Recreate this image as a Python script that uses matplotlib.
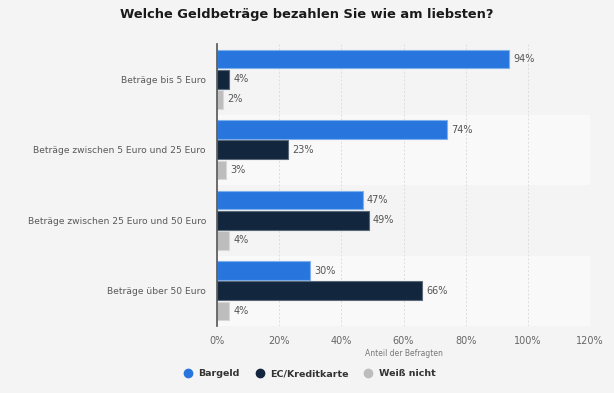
import numpy as np
import matplotlib.pyplot as plt
from matplotlib.lines import Line2D

# Daten
kategorien = ['Beträge bis 5 Euro', 'Beträge zwischen 5 Euro und 25 Euro',
              'Beträge zwischen 25 Euro und 50 Euro', 'Beträge über 50 Euro']
bargeld = [94, 74, 47, 30]
ec_karte = [4, 23, 49, 66]
weiss_nicht = [2, 3, 4, 4]
serien = ['Bargeld', 'EC/Kreditkarte', 'Weiß nicht']
farben = ['#2876dd', '#12263e', '#bdbdbd']
kanten = ['#7fb0ee', '#5a6878', '#d8d8d8']
xticks = [0, 20, 40, 60, 80, 100, 120]

bg = '#f4f4f4'
fig = plt.figure(figsize=(6.14, 3.93), dpi=100, facecolor=bg)
ax = fig.add_axes([217 / 614, 1 - 326 / 393, 373 / 614, 282 / 393])
ax.set_facecolor(bg)

y = np.arange(len(kategorien))
# abwechselnde Hintergrundstreifen
for i in y:
    ax.axhspan(i - 0.5, i + 0.5, color=bg if i % 2 == 0 else '#f9f9f9', zorder=0, lw=0)

offsets = [-0.285, 0, 0.285]
h = 0.265
for werte, off, c, ec in zip([bargeld, ec_karte, weiss_nicht], offsets, farben, kanten):
    ax.barh(y + off, werte, height=h, color=c, edgecolor=ec, linewidth=0.8, zorder=3)
    for yi, v in zip(y, werte):
        ax.text(v + 1.2, yi + off, f'{v}%', va='center', ha='left',
                fontsize=7, color='#555555', zorder=4)

ax.set_xlim(0, 120)
ax.set_ylim(len(kategorien) - 0.5, -0.5)
ax.set_xticks(xticks)
ax.set_xticklabels([f'{t}%' for t in xticks], fontsize=7, color='#666666')
ax.set_yticks(y)
ax.set_yticklabels(kategorien, fontsize=6.6, color='#595959')
ax.tick_params(length=0, pad=8)
ax.tick_params(axis='x', pad=7)
ax.grid(axis='x', color='#dddddd', linestyle=(0, (2, 2)), linewidth=0.7, zorder=1)
ax.set_axisbelow(True)
for s in ['top', 'right', 'bottom']:
    ax.spines[s].set_visible(False)
ax.spines['left'].set_color('#555555')
ax.spines['left'].set_linewidth(1.2)
ax.spines['left'].set_zorder(5)

fig.text(0.5, 1 - 14.5 / 393, 'Welche Geldbeträge bezahlen Sie wie am liebsten?',
         ha='center', va='center', fontsize=9.4, fontweight='bold', color='#1a1a1a')
fig.text(404 / 614, 1 - 353 / 393, 'Anteil der Befragten', ha='center', va='center',
         fontsize=5.5, color='#777777')

handles = [Line2D([], [], marker='o', linestyle='', markersize=6, color=c) for c in farben]
leg = fig.legend(handles, serien, loc='center', bbox_to_anchor=(0.5, 1 - 374 / 393),
                 ncol=3, frameon=False, handletextpad=0.1, columnspacing=1.1,
                 prop={'weight': 'bold', 'size': 6.8})
for t in leg.get_texts():
    t.set_color('#333333')

fig.savefig('out.png', dpi=100, facecolor=bg)
